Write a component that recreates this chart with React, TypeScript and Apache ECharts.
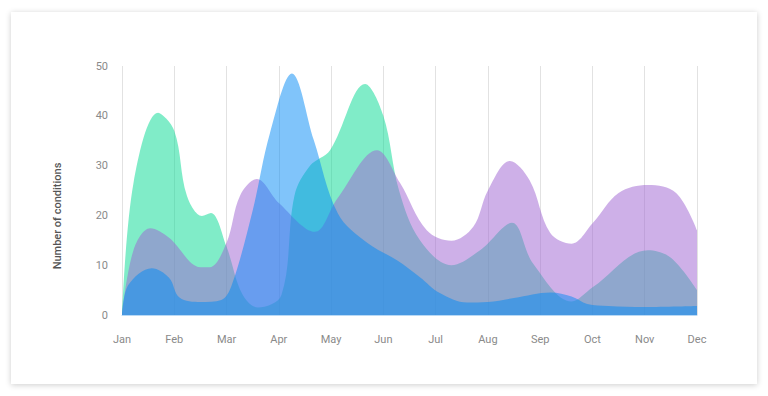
import React, { useEffect, useRef } from "react";
import * as echarts from "echarts";

const months = ["Jan", "Feb", "Mar", "Apr", "May", "Jun", "Jul", "Aug", "Sep", "Oct", "Nov", "Dec"];
const yTicks = [0, 10, 20, 30, 40, 50];

// [month position (0 = Jan), number of conditions]
const greenSeries: [number, number][] = [
  [0, 0], [0.22, 26.5], [0.69, 40.6], [1.0, 37], [1.24, 24], [1.53, 19.9], [1.7, 20.5],
  [2.0, 13.7], [2.3, 4.2], [2.6, 1.5], [3.05, 4], [3.3, 24], [3.6, 30], [3.98, 33.1],
  [4.65, 46.4], [5.0, 40], [5.3, 25], [5.7, 15], [6.3, 10], [6.85, 13], [7.46, 18.5],
  [7.86, 10.4], [8.6, 2.7], [9.01, 5.6], [10.06, 13], [10.5, 11.5], [11, 5],
];

const purpleSeries: [number, number][] = [
  [0, 0], [0.22, 13], [0.54, 17.4], [0.9, 15.5], [1.5, 9.6], [1.68, 9.6], [2.0, 14.5],
  [2.26, 24], [2.58, 27.3], [3.0, 22.5], [3.69, 16.7], [4.12, 23.4], [4.88, 33.1],
  [5.32, 26.5], [5.83, 17], [6.3, 14.9], [6.72, 17.7], [7.0, 25], [7.42, 30.9], [7.8, 27],
  [8.19, 16.5], [8.6, 14.3], [9.01, 18.5], [9.5, 24.5], [10.06, 26.1], [10.6, 24.5], [11, 17],
];

const blueSeries: [number, number][] = [
  [0, 0], [0.12, 6], [0.57, 9.4], [0.9, 7.5], [1.1, 3.5], [1.5, 2.6], [1.9, 3], [2.1, 6],
  [2.5, 21], [2.83, 36.5], [3.25, 48.5], [3.67, 35.1], [4.13, 20.4], [4.69, 14.5],
  [5.26, 11], [5.7, 7.6], [6.08, 4.4], [6.6, 2.5], [7.0, 2.6], [7.5, 3.4], [8.2, 4.5],
  [8.6, 3.7], [8.9, 2.2], [9.3, 1.8], [10, 1.6], [11, 1.8],
];

const FONT = "Roboto, 'Noto Sans', sans-serif";

export default function App() {
  const ref = useRef<HTMLDivElement>(null);

  useEffect(() => {
    if (!ref.current) return;
    const chart = echarts.init(ref.current, null, { renderer: "svg" });
    const areaSeries = (name: string, data: [number, number][], color: string) => ({
      name,
      type: "line",
      data,
      smooth: 0.35,
      showSymbol: false,
      symbol: "none",
      lineStyle: { width: 0 },
      areaStyle: { color, opacity: 1 },
      emphasis: { disabled: true },
    });
    chart.setOption({
      animation: false,
      grid: { left: 122, right: 71, top: 66, bottom: 81 },
      xAxis: {
        type: "value",
        min: 0,
        max: 11,
        interval: 1,
        axisLine: { show: true, lineStyle: { color: "#b9d9f5", width: 1 } },
        axisTick: { show: false },
        axisLabel: {
          color: "#8a8a8a",
          fontSize: 11,
          fontFamily: FONT,
          margin: 19,
          formatter: (v: number) => months[Math.round(v)] ?? "",
        },
        splitLine: { show: true, lineStyle: { color: "#e2e2e2", width: 1 } },
      },
      yAxis: {
        type: "value",
        min: yTicks[0],
        max: yTicks[yTicks.length - 1],
        interval: 10,
        axisLine: { show: false },
        axisTick: { show: false },
        splitLine: { show: false },
        axisLabel: { color: "#8a8a8a", fontSize: 11, fontFamily: FONT, margin: 14 },
      },
      graphic: [
        {
          type: "text",
          x: 57,
          y: 216,
          rotation: Math.PI / 2,
          style: {
            text: "Number of conditions",
            fill: "#555",
            font: `500 11px ${FONT}`,
            align: "center",
            verticalAlign: "middle",
          },
        },
      ],
      series: [
        areaSeries("Green", greenSeries, "rgba(1,217,145,0.5)"),
        areaSeries("Purple", purpleSeries, "rgba(157,97,209,0.5)"),
        areaSeries("Blue", blueSeries, "rgba(1,137,245,0.5)"),
      ],
    });
    return () => chart.dispose();
  }, []);

  return (
    <div style={{ position: "fixed", left: 0, top: 0, width: 768, height: 396, background: "#fff" }}>
      <div
        style={{
          position: "absolute",
          left: 11,
          top: 12,
          width: 746,
          height: 372,
          background: "#fff",
          boxShadow: "0 1px 6px rgba(0,0,0,0.2)",
        }}
      />
      <div ref={ref} style={{ position: "absolute", left: 0, top: 0, width: 768, height: 396 }} />
    </div>
  );
}
